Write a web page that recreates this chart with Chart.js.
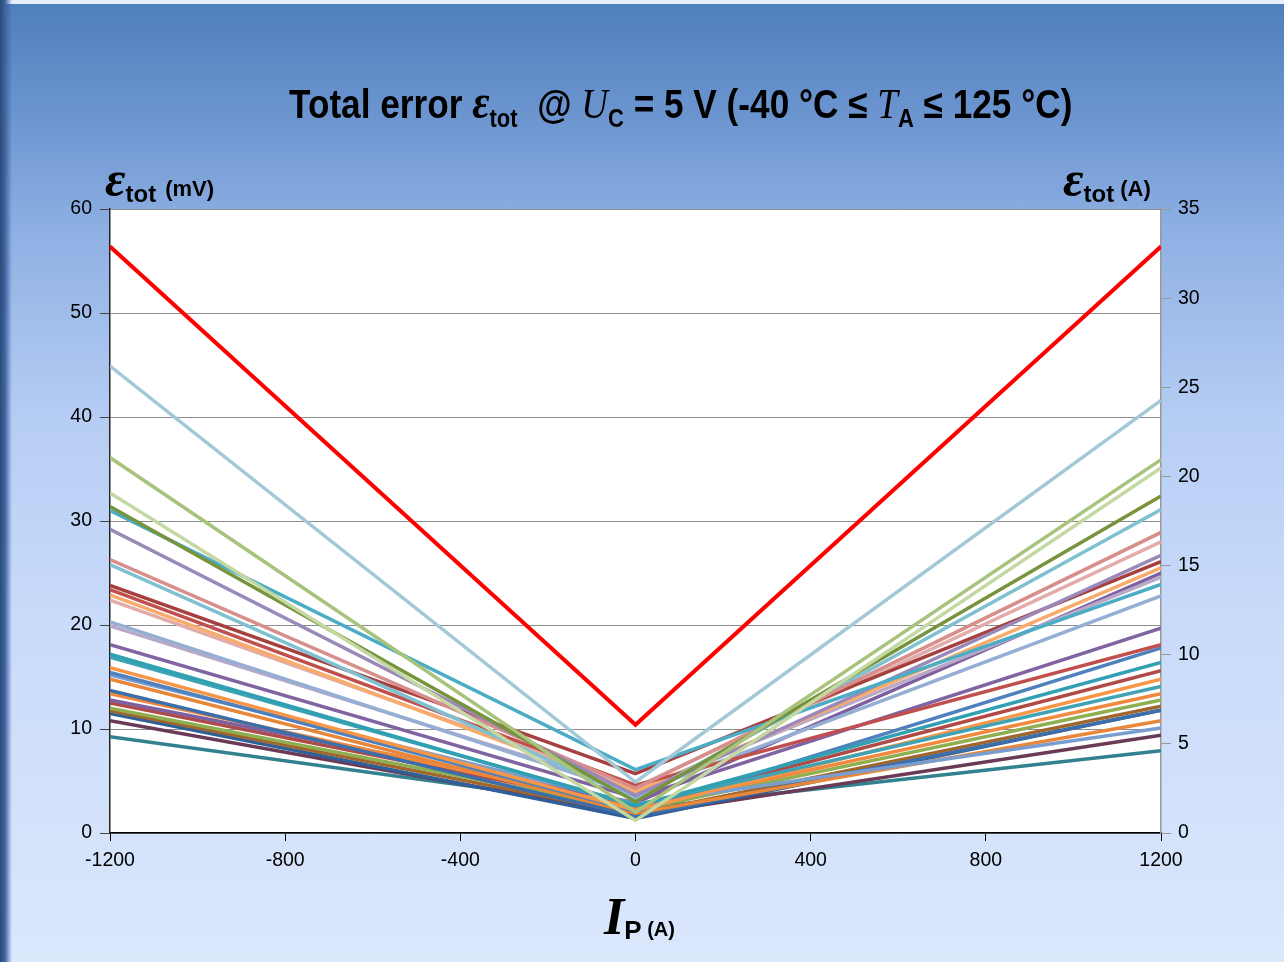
<!DOCTYPE html>
<html>
<head>
<meta charset="utf-8">
<script src="https://cdn.jsdelivr.net/npm/chart.js@4.4.1/dist/chart.umd.min.js"></script>
<style>
  html, body { margin: 0; padding: 0; }
  body { width: 1284px; height: 962px; overflow: hidden; position: relative;
    background: linear-gradient(to bottom, #4e7ebc 0px, #6d96d0 120px, #8eb0e3 230px, #b6cdf4 420px, #c9dbfa 620px, #dbe7fb 962px); }
  #edge { position: absolute; left: 0; top: 0; width: 12px; height: 962px;
    background: linear-gradient(to right, #2c4a78 0px, #3f64a0 5px, rgba(80,128,190,0) 12px); }
  #topline { position: absolute; left: 0; top: 0; width: 1284px; height: 4px; background: #e6eefb; }
  canvas { position: absolute; left: 0; top: 0; }
  .lbl { position: absolute; color: #000; white-space: nowrap; font-family: "Liberation Sans", Arial, sans-serif; font-weight: bold; line-height: 1; }
  .eps { font-family: "Liberation Serif", "Times New Roman", serif; font-style: italic; font-weight: bold; }
  .it { font-family: "Liberation Serif", "Times New Roman", serif; font-style: italic; font-weight: normal; }
  #title { left: 289px; top: 78px; font-size: 40px; transform: scaleX(0.88); transform-origin: left top; }
  #title .sub { font-size: 25px; position: relative; top: 9px; }
</style>
</head>
<body>
<div id="topline"></div>
<div id="edge"></div>
<canvas id="errChart" width="1284" height="962"></canvas>

<div class="lbl" id="title">Total error <span class="eps" style="font-size:48px">ε</span><span class="sub">tot</span>&nbsp; @ <span class="it" style="font-size:42px">U</span><span class="sub">C</span> = 5 V (-40 °C ≤ <span class="it" style="font-size:42px">T</span><span class="sub">A</span> ≤ 125 °C)</div>

<div class="lbl" style="left:105px;top:154px"><span class="eps" style="font-size:50px">ε</span><span style="font-size:24px;position:relative;top:6px">tot</span><span style="font-size:22px;margin-left:9px">(mV)</span></div>
<div class="lbl" style="left:1063px;top:154px"><span class="eps" style="font-size:50px">ε</span><span style="font-size:24px;position:relative;top:6px">tot</span><span style="font-size:22px;margin-left:6px">(A)</span></div>
<div class="lbl" style="left:604px;top:891px"><span class="it" style="font-size:52px;font-weight:bold">I</span><span style="font-size:26px;position:relative;top:5px">P</span><span style="font-size:20px;position:relative;top:2px"> (A)</span></div>

<script>
// primary current (A) where each curve is sampled
var currents = [-1200, 0, 1200];
var xTicks = [-1200, -800, -400, 0, 400, 800, 1200];

// total error (mV) of each sample at -1200 A, 0 A and +1200 A
var errAtMinus = [56.4, 44.9, 36.1, 32.7, 31.4, 31.0, 29.2, 26.3, 25.8, 23.8, 23.4, 22.9, 22.4, 20.3, 19.9, 18.1,
                  17.2, 16.9, 15.9, 15.45, 15.2, 14.8, 13.7, 13.4, 12.8, 12.5, 12.0, 11.76, 11.5, 10.8, 9.26];
var errAtZero  = [10.4, 4.9, 2.0, 1.2, 3.0, 6.1, 3.6, 4.3, 3.3, 5.7, 4.6, 4.0, 4.4, 3.8, 4.1, 3.4,
                  2.6, 2.7, 2.2, 2.1, 2.8, 1.9, 1.6, 2.4, 2.9, 2.5, 2.2, 1.8, 1.4, 1.7, 2.3];
var errAtPlus  = [56.4, 41.6, 35.9, 35.1, 32.4, 23.9, 26.7, 28.9, 31.1, 26.1, 18.1, 25.5, 28.0, 22.8, 24.6, 19.7,
                  16.4, 14.1, 14.8, 17.8, 10.1, 10.8, 11.8, 13.4, 25.0, 15.6, 12.8, 12.2, 11.8, 9.4, 7.9];

var lineColors = ['#ff0000', '#a3c8d8', '#a8c37c', '#c4d8a2', '#77933c', '#4bacc6', '#9a89b9', '#d88f8c', '#7fc0d1',
                  '#a5403e', '#c0504d', '#f9ab6b', '#e3aba9', '#95aed3', '#b9a9c9', '#8064a2', '#31a0b2', '#3fa3b5',
                  '#f79646', '#4f81bd', '#7a9dd0', '#e8873a', '#3c6eaa', '#f0883e', '#7e5fa0', '#b04a47', '#8fae4f',
                  '#a0662e', '#2f5f98', '#6a3a56', '#31818f'];

var datasets = [];
for (var i = 0; i < errAtMinus.length; i++) {
  var vals = [errAtMinus[i], errAtZero[i], errAtPlus[i]];
  datasets.push({
    data: currents.map(function (c, k) { return { x: c, y: vals[k] }; }),
    borderColor: lineColors[i],
    borderWidth: i === 0 ? 4 : 3.5,
    pointRadius: 0,
    tension: 0,
    yAxisID: 'y'
  });
}

// white plot area
var plotBg = {
  id: 'plotBg',
  beforeDraw: function (chart) {
    var a = chart.chartArea, ctx = chart.ctx;
    ctx.save();
    ctx.fillStyle = '#ffffff';
    ctx.fillRect(a.left, a.top, a.right - a.left, a.bottom - a.top);
    ctx.restore();
  }
};

var tickFont = { family: 'Liberation Sans, Arial, sans-serif', size: 19.5 };

new Chart(document.getElementById('errChart'), {
  type: 'line',
  data: { datasets: datasets },
  plugins: [plotBg],
  options: {
    responsive: false,
    animation: false,
    layout: { padding: { top: 209, left: 0, right: 0, bottom: 0 } },
    plugins: { legend: { display: false }, tooltip: { enabled: false } },
    scales: {
      x: {
        type: 'linear', min: -1200, max: 1200,
        afterFit: function (s) { s.height = 129; },
        afterBuildTicks: function (s) { s.ticks = xTicks.map(function (v) { return { value: v }; }); },
        ticks: { color: '#000', font: tickFont, padding: 8,
                 callback: function (v) { return String(v); } },
        grid: { drawOnChartArea: false, drawTicks: true, tickLength: 8, tickColor: '#000' },
        border: { color: '#000', width: 1.5 }
      },
      y: {
        position: 'left', min: 0, max: 60,
        afterFit: function (s) { s.width = 110; },
        ticks: { stepSize: 10, color: '#000', font: tickFont, padding: 8 },
        grid: { color: '#8c8c8c', lineWidth: 1, tickLength: 10, tickColor: '#444' },
        border: { color: '#222', width: 1.5 }
      },
      y2: {
        position: 'right', min: 0, max: 35,
        afterFit: function (s) { s.width = 123; },
        ticks: { stepSize: 5, color: '#000', font: tickFont, padding: 7 },
        grid: { drawOnChartArea: false, tickLength: 10, tickColor: '#999' },
        border: { color: '#999', width: 1.5 }
      }
    }
  }
});
</script>
</body>
</html>
